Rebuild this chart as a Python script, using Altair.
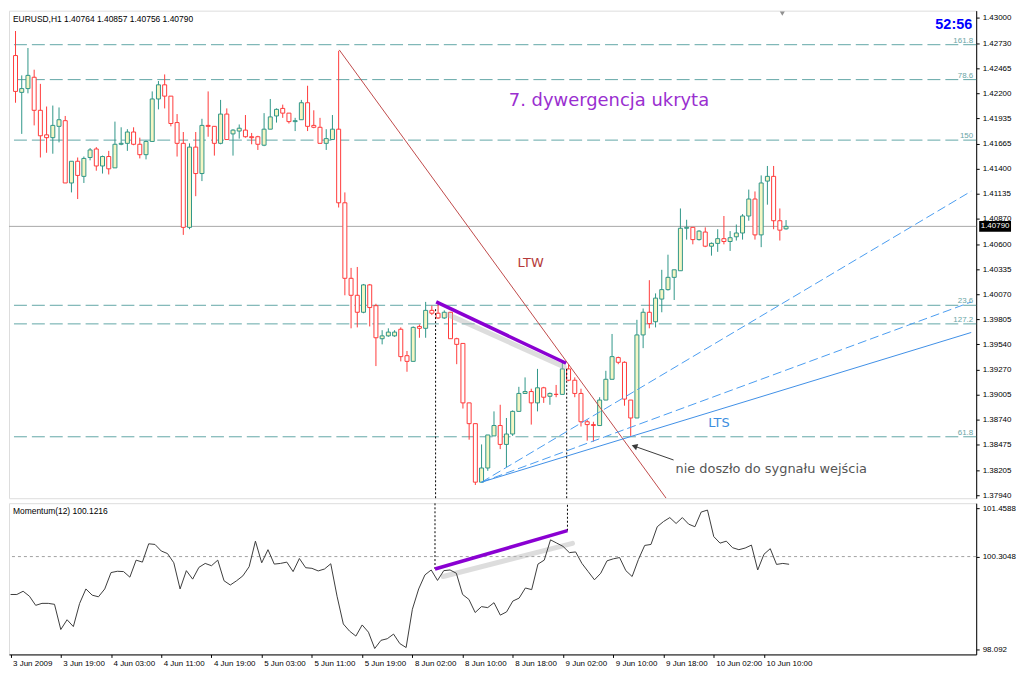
import altair as alt
import pandas as pd

# ---------------- data ----------------
opens = [1.4260,1.4221,1.4225,1.4237,1.4202,1.4176,1.4173,1.4185,1.4191,1.4125,
1.4148,1.4132,1.4152,1.4161,1.4143,1.4153,1.4141,1.4166,1.4167,1.4179,
1.4166,1.4155,1.4169,1.4214,1.4229,1.4217,1.4189,1.4167,1.4078,1.4163,
1.4135,1.4186,1.4185,1.4167,1.4198,1.4177,1.4180,1.4181,1.4174,1.4174,
1.4165,1.4182,1.4196,1.4204,1.4199,1.4190,1.4192,1.4210,1.4186,1.4184,
1.4167,1.4171,1.4182,1.4104,1.4024,1.4006,1.3988,1.4017,1.3995,1.3960,
1.3963,1.3963,1.3970,1.3942,1.3936,1.3973,1.3971,1.3990,1.3987,1.3982,
1.3988,1.3960,1.3955,1.3892,1.3870,1.3808,1.3823,1.3857,1.3868,1.3848,
1.3859,1.3883,1.3902,1.3904,1.3892,1.3908,1.3899,1.3901,1.3901,1.3928,
1.3916,1.3902,1.3872,1.3869,1.3868,1.3895,1.3917,1.3940,1.3935,1.3895,
1.3876,1.3964,1.3988,1.3978,1.4002,1.4012,1.4025,1.4032,1.4077,1.4078,
1.4065,1.4073,1.4058,1.4061,1.4066,1.4063,1.4068,1.4072,1.4090,1.4108,
1.4070,1.4127,1.4132,1.4085,1.40764]

highs = [1.4286,1.4239,1.4268,1.4245,1.4230,1.4206,1.4207,1.4205,1.4196,1.4148,
1.4152,1.4153,1.4162,1.4163,1.4154,1.4159,1.4190,1.4184,1.4182,1.4184,
1.4173,1.4170,1.4222,1.4233,1.4240,1.4217,1.4198,1.4179,1.4167,1.4179,
1.4193,1.4222,1.4185,1.4213,1.4204,1.4182,1.4187,1.4197,1.4178,1.4175,
1.4199,1.4214,1.4204,1.4208,1.4199,1.4194,1.4213,1.4228,1.4202,1.4194,
1.4182,1.4197,1.4265,1.4115,1.4035,1.4036,1.4018,1.4018,1.3997,1.3969,
1.3971,1.3969,1.3972,1.3947,1.3973,1.3975,1.3999,1.3995,1.4000,1.3990,
1.3988,1.3961,1.3955,1.3892,1.3870,1.3848,1.3858,1.3883,1.3890,1.3876,
1.3884,1.3909,1.3919,1.3907,1.3928,1.3909,1.3903,1.3911,1.3935,1.3933,
1.3919,1.3907,1.3874,1.3872,1.3898,1.3926,1.3965,1.3941,1.3936,1.3895,
1.3980,1.3992,1.4022,1.4008,1.4033,1.4049,1.4033,1.4098,1.4086,1.4078,
1.4075,1.4078,1.4062,1.4076,1.4090,1.4074,1.4081,1.4092,1.4118,1.4116,
1.4133,1.4143,1.4143,1.4098,1.40857]

lows = [1.4210,1.4177,1.4220,1.4186,1.4152,1.4157,1.4156,1.4168,1.4125,1.4115,
1.4108,1.4125,1.4149,1.4138,1.4135,1.4134,1.4141,1.4165,1.4159,1.4165,
1.4151,1.4150,1.4169,1.4203,1.4204,1.4185,1.4153,1.4070,1.4076,1.4111,
1.4127,1.4174,1.4154,1.4166,1.4171,1.4154,1.4172,1.4173,1.4166,1.4160,
1.4164,1.4182,1.4189,1.4194,1.4188,1.4180,1.4192,1.4180,1.4183,1.4167,
1.4160,1.4171,1.4099,1.4006,1.3971,1.3972,1.3987,1.3973,1.3931,1.3954,
1.3962,1.3962,1.3936,1.3925,1.3936,1.3961,1.3961,1.3985,1.3981,1.3981,
1.3960,1.3933,1.3886,1.3853,1.3805,1.3808,1.3820,1.3857,1.3843,1.3824,
1.3857,1.3883,1.3902,1.3869,1.3883,1.3892,1.3890,1.3898,1.3901,1.3915,
1.3898,1.3867,1.3852,1.3851,1.3868,1.3895,1.3917,1.3933,1.3889,1.3857,
1.3876,1.3950,1.3971,1.3972,1.3988,1.4011,1.4001,1.4032,1.4065,1.4060,
1.4064,1.4057,1.4048,1.4052,1.4060,1.4053,1.4064,1.4065,1.4085,1.4065,
1.4057,1.4102,1.4076,1.4064,1.40756]

closes = [1.4222,1.4225,1.4239,1.4202,1.4175,1.4173,1.4186,1.4192,1.4125,1.4148,
1.4133,1.4151,1.4160,1.4143,1.4153,1.4140,1.4166,1.4167,1.4179,1.4166,
1.4155,1.4169,1.4214,1.4229,1.4217,1.4188,1.4167,1.4078,1.4163,1.4135,
1.4186,1.4185,1.4167,1.4198,1.4171,1.4181,1.4183,1.4174,1.4173,1.4166,
1.4182,1.4195,1.4203,1.4199,1.4190,1.4191,1.4210,1.4185,1.4184,1.4167,
1.4172,1.4182,1.4104,1.4024,1.4006,1.3988,1.4017,1.3993,1.3961,1.3963,
1.3967,1.3967,1.3941,1.3936,1.3972,1.3971,1.3990,1.3987,1.3982,1.3988,
1.3960,1.3954,1.3892,1.3870,1.3808,1.3823,1.3858,1.3868,1.3848,1.3859,
1.3883,1.3902,1.3904,1.3892,1.3908,1.3898,1.3902,1.3901,1.3928,1.3916,
1.3902,1.3872,1.3869,1.3868,1.3895,1.3917,1.3941,1.3935,1.3896,1.3876,
1.3964,1.3988,1.3976,1.4003,1.4012,1.4025,1.4033,1.4077,1.4078,1.4065,
1.4074,1.4058,1.4061,1.4066,1.4063,1.4067,1.4072,1.4090,1.4108,1.4070,
1.4125,1.4132,1.4085,1.4075,1.40790]

momentum = [99.402,99.402,99.479,99.362,99.144,99.191,99.191,99.168,98.568,98.801,
98.638,99.191,99.534,99.386,99.347,99.534,99.924,99.955,99.947,99.815,
100.220,100.173,100.609,100.594,100.438,100.376,100.157,99.534,99.970,99.768,
100.048,100.142,100.087,100.220,99.729,99.628,99.729,99.846,100.064,100.672,
100.157,100.469,100.126,100.142,100.173,99.947,100.259,100.040,100.025,99.963,
100.009,100.134,99.362,98.700,98.529,98.412,98.677,98.505,98.116,98.311,
98.349,98.459,98.233,98.139,99.051,99.534,99.869,99.986,99.737,99.970,
99.986,99.908,99.402,99.285,98.973,99.113,99.090,99.207,98.911,98.988,
99.246,99.316,99.557,99.518,100.126,100.220,100.703,100.625,100.547,100.399,
100.415,100.142,99.947,99.752,99.908,100.204,100.251,100.282,99.970,99.830,
100.235,100.570,100.594,101.015,101.139,101.233,101.093,101.233,101.077,101.015,
101.365,101.412,100.781,100.625,100.672,100.516,100.469,100.508,100.578,99.986,
100.360,100.493,100.118,100.142,100.1216]

tick_idx = [0, 8, 16, 24, 32, 40, 48, 56, 64, 72, 80, 88, 96, 104, 112, 120]
tick_labels = ["3 Jun 2009", "3 Jun 19:00", "4 Jun 03:00", "4 Jun 11:00", "4 Jun 19:00",
               "5 Jun 03:00", "5 Jun 11:00", "5 Jun 19:00", "8 Jun 02:00", "8 Jun 10:00",
               "8 Jun 18:00", "9 Jun 02:00", "9 Jun 10:00", "9 Jun 18:00", "10 Jun 02:00",
               "10 Jun 10:00"]
price_ticks = [1.43000, 1.42730, 1.42465, 1.42200, 1.41935, 1.41665, 1.41400, 1.41135,
               1.40870, 1.40600, 1.40335, 1.40070, 1.39805, 1.39540, 1.39270, 1.39005,
               1.38740, 1.38475, 1.38205, 1.37940]
mom_ticks = [98.092, 100.3048, 101.4588]
mom_level = 100.3048

fib_levels = [1.42715, 1.42345, 1.41704, 1.39954, 1.39757, 1.38561]
fib_names = ["161.8", "78.6", "150", "23.6", "127.2", "61.8"]

# drawn objects (bar index, price / momentum)
ltw_x, ltw_p = [52.1, 104.7], [1.4266, 1.3791]
fan_x = [75.0, 153.8]
fan_steep_p = [1.3808, 1.41163]
fan_mid_p = [1.3808, 1.39989]
fan_solid_p = [1.3808, 1.39666]
div_x, div_p = [67.7, 88.6], [1.3999, 1.3934]
shadow_x, shadow_p = [69.6, 88.3], [1.39855, 1.39300]
mdiv_x, mdiv_m = [67.6, 88.7], [100.009, 100.921]
mshadow_x, mshadow_m = [68.9, 89.5], [99.83, 100.62]
vline_x = [67.6, 88.7]
vline_p_top = [1.3993, 1.3930]
vline_m_bottom = [100.009, 100.921]
arrow_x, arrow_p = [105.9, 99.6], [1.38315, 1.38461]

# ---------------- layout ----------------
W, H1, H2 = 972, 490, 152
XDOM = [-0.25, 153.8]
PDOM = [1.3791, 1.43076]
MDOM = [97.975, 101.576]
FONT = "Liberation Sans"
AFONT = "DejaVu Sans"

xs = alt.Scale(domain=XDOM, nice=False, zero=False)
ps = alt.Scale(domain=PDOM, nice=False, zero=False)
ms = alt.Scale(domain=MDOM, nice=False, zero=False)

price_axis = alt.Axis(orient="right", values=price_ticks, format=".5f", labelFont=FONT,
                      labelFontSize=8, labelColor="black", tickSize=3, tickColor="black",
                      domainColor="black", grid=False, title=None, labelPadding=3,
                      labelOverlap=False, labelFlush=False)
mom_axis = alt.Axis(orient="right", values=mom_ticks, labelExpr="'' + datum.value",
                    labelFont=FONT, labelFontSize=8, labelColor="black", tickSize=3,
                    tickColor="black", domainColor="black", grid=False, title=None,
                    labelPadding=3, labelOverlap=False, labelFlush=False)
label_expr = "[" + ",".join("'%s'" % s for s in tick_labels) + "][round(datum.value/8)]"
time_axis = alt.Axis(values=tick_idx, labelExpr=label_expr, labelAlign="left", labelFont=FONT,
                     labelFontSize=8, labelColor="black", tickSize=3, tickColor="black",
                     domainColor="black", grid=False, title=None, labelPadding=2,
                     labelOverlap=False, labelFlush=False, labelBound=False, labelOffset=2)

XM = lambda f: alt.X(f + ":Q", scale=xs, axis=None, title=None)
YP = lambda f: alt.Y(f + ":Q", scale=ps, axis=price_axis, title=None)
XB = lambda f: alt.X(f + ":Q", scale=xs, axis=time_axis, title=None)
YM = lambda f: alt.Y(f + ":Q", scale=ms, axis=mom_axis, title=None)

n = len(opens)
bars = pd.DataFrame({"i": list(range(n)), "o": opens, "h": highs, "l": lows, "c": closes})
bars["dir"] = ["up" if c > o else "down" for o, c in zip(opens, closes)]
stroke_scale = alt.Scale(domain=["up", "down"], range=["#2f9688", "#ff3a3a"])
fill_scale = alt.Scale(domain=["up", "down"], range=["#f6f6c4", "#ffffff"])


def seg(xv, yv, yfun, **kw):
    df = pd.DataFrame({"x": xv, "y": yv})
    return alt.Chart(df).mark_line(clip=True, **kw).encode(x=XM("x") if yfun is YP else XB("x"),
                                                           y=yfun("y"))


# ---------------- main panel ----------------
fib_df = pd.DataFrame({"p": fib_levels, "t": fib_names})
fib_rules = alt.Chart(fib_df).mark_rule(color="#62a6a6", strokeWidth=1, strokeDash=[13, 5]).encode(y=YP("p"))
fib_text = alt.Chart(fib_df).mark_text(align="right", baseline="bottom", dy=0, color="#6aa6a6",
                                       font=FONT, fontSize=8).encode(x=alt.value(W - 3), y=YP("p"), text="t:N")
cur_df = pd.DataFrame({"p": [closes[-1]], "t": ["%.5f" % closes[-1]]})
cur_rule = alt.Chart(cur_df).mark_rule(color="#a8a8a8", strokeWidth=1).encode(y=YP("p"))

wicks = alt.Chart(bars).mark_rule(strokeWidth=1).encode(
    x=XM("i"), y=YP("l"), y2="h:Q", color=alt.Color("dir:N", scale=stroke_scale, legend=None))
bodies = alt.Chart(bars).mark_bar(size=4, strokeWidth=1).encode(
    x=XM("i"), y=YP("o"), y2="c:Q",
    fill=alt.Fill("dir:N", scale=fill_scale, legend=None),
    stroke=alt.Stroke("dir:N", scale=stroke_scale, legend=None))

ltw = seg(ltw_x, ltw_p, YP, color="#bf4a4a", strokeWidth=1)
fan1 = seg(fan_x, fan_steep_p, YP, color="#4a9cf0", strokeWidth=1, strokeDash=[9, 4])
fan2 = seg(fan_x, fan_mid_p, YP, color="#4a9cf0", strokeWidth=1, strokeDash=[9, 4])
fan3 = seg(fan_x, fan_solid_p, YP, color="#3f8fe6", strokeWidth=1)
shadow = seg(shadow_x, shadow_p, YP, color="#b4b4b4", strokeWidth=5, opacity=0.45, strokeCap="round")
div = seg(div_x, div_p, YP, color="#8a00d2", strokeWidth=3.5)

vl_df = pd.DataFrame({"x": vline_x, "top": vline_p_top, "bot": [PDOM[0], PDOM[0]],
                      "mtop": [MDOM[1], MDOM[1]], "mbot": vline_m_bottom})
vlines = alt.Chart(vl_df).mark_rule(color="black", strokeWidth=1, strokeDash=[2, 2]).encode(
    x=XM("x"), y=YP("bot"), y2="top:Q")

arrow_line = seg(arrow_x, arrow_p, YP, color="#3a3a3a", strokeWidth=1)
arrow_head = alt.Chart(pd.DataFrame({"x": [arrow_x[1]], "y": [arrow_p[1]]})).mark_point(
    shape="triangle-up", filled=True, angle=289, size=45, color="#3a3a3a", opacity=1).encode(
    x=XM("x"), y=YP("y"))

ann_df = pd.DataFrame({
    "x": [95.5, 82.9, 113.2],
    "y": [1.42120, 1.40404, 1.38710],
    "t": ["7. dywergencja ukryta", "LTW", "LTS"],
})
ann1 = alt.Chart(ann_df.iloc[[0]]).mark_text(font=AFONT, fontSize=18, color="#9a2fd0",
                                             baseline="middle").encode(x=XM("x"), y=YP("y"), text="t:N")
ann2 = alt.Chart(ann_df.iloc[[1]]).mark_text(font=AFONT, fontSize=13, color="#b53a3a",
                                             baseline="middle").encode(x=XM("x"), y=YP("y"), text="t:N")
ann3 = alt.Chart(ann_df.iloc[[2]]).mark_text(font=AFONT, fontSize=13, color="#3d8ee0",
                                             baseline="middle").encode(x=XM("x"), y=YP("y"), text="t:N")
note = alt.Chart(pd.DataFrame({"x": [106.2], "y": [1.38222],
                               "t": ["nie doszło do sygnału wejścia"]})).mark_text(
    font=AFONT, fontSize=13, color="#555555", align="left", baseline="middle").encode(
    x=XM("x"), y=YP("y"), text="t:N")

header = "EURUSD,H1  %.5f %.5f %.5f %.5f" % (opens[-1], highs[-1], lows[-1], closes[-1])
head_txt = alt.Chart(pd.DataFrame({"t": [header]})).mark_text(
    align="left", baseline="top", font=FONT, fontSize=8.5, color="black").encode(
    x=alt.value(4), y=alt.value(4), text="t:N")
timer = alt.Chart(pd.DataFrame({"t": ["52:56"]})).mark_text(
    align="right", baseline="middle", font=FONT, fontSize=14.5, fontWeight="bold",
    color="#0000ff").encode(x=alt.value(W - 4), y=alt.value(14), text="t:N")
shift_mark = alt.Chart(pd.DataFrame({"x": [123.4]})).mark_point(
    shape="triangle-down", filled=True, size=25, color="#909090", opacity=1).encode(
    x=XM("x"), y=alt.value(3))

box = alt.Chart(cur_df).mark_point(shape="M-1,-0.34H1V0.34H-1Z", filled=True, color="black",
                                   opacity=1, size=1024, clip=False).encode(
    x=alt.value(W + 19), y=YP("p"))
box_txt = alt.Chart(cur_df).mark_text(align="center", baseline="middle", color="white",
                                      font=FONT, fontSize=8, clip=False).encode(
    x=alt.value(W + 19), y=YP("p"), text="t:N")

main = alt.layer(
    fib_rules, cur_rule, fib_text, wicks, bodies,
    ltw, fan1, fan2, fan3, vlines, shadow, div,
    arrow_line, arrow_head, ann1, ann2, ann3, note,
    head_txt, timer, shift_mark, box, box_txt,
).properties(width=W, height=H1)

# ---------------- momentum panel ----------------
mom_df = pd.DataFrame({"i": list(range(n)), "m": momentum})
mom_line = alt.Chart(mom_df).mark_line(color="#3c3c3c", strokeWidth=1).encode(x=XB("i"), y=YM("m"))
lvl = alt.Chart(pd.DataFrame({"m": [mom_level]})).mark_rule(
    color="#a0a0a0", strokeWidth=1, strokeDash=[3, 3]).encode(y=YM("m"))
mshadow = seg(mshadow_x, mshadow_m, YM, color="#b4b4b4", strokeWidth=5, opacity=0.45, strokeCap="round")
mdiv = seg(mdiv_x, mdiv_m, YM, color="#8a00d2", strokeWidth=3.5)
mvlines = alt.Chart(vl_df).mark_rule(color="black", strokeWidth=1, strokeDash=[2, 2]).encode(
    x=XB("x"), y=YM("mbot"), y2="mtop:Q")
mom_head = alt.Chart(pd.DataFrame({"t": ["Momentum(12) %.4f" % momentum[-1]]})).mark_text(
    align="left", baseline="top", font=FONT, fontSize=8.5, color="black").encode(
    x=alt.value(4), y=alt.value(4), text="t:N")

mom = alt.layer(lvl, mvlines, mshadow, mom_line, mdiv, mom_head).properties(width=W, height=H2)

chart = alt.vconcat(main, mom, spacing=2).properties(
    padding={"left": 0, "top": 0, "right": 0, "bottom": 0}
).configure_view(stroke="#7a7a7a", strokeWidth=1).configure(background="white")

chart.save("out.html", embed_options={"renderer": "svg", "actions": False})
